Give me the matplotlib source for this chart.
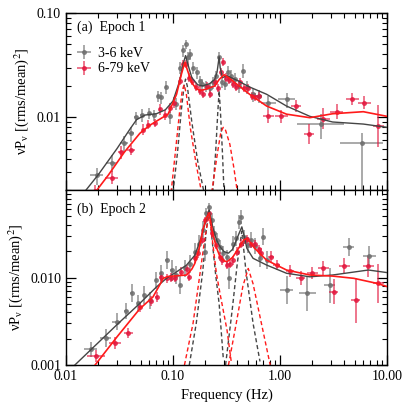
import numpy as np
import matplotlib
matplotlib.use("Agg")
import matplotlib.pyplot as plt
from matplotlib.ticker import FixedLocator, NullFormatter, LogLocator

plt.rcParams['font.family'] = ['Liberation Serif', 'DejaVu Serif']
plt.rcParams['mathtext.fontset'] = 'stix'

# ---------------- Epoch 1 data ----------------
fa_soft = [0.0194, 0.0267, 0.0348, 0.0403, 0.045, 0.0513, 0.060, 0.066, 0.072, 0.078, 0.0855, 0.094,
           0.107, 0.116, 0.123, 0.131, 0.138, 0.144, 0.155, 0.166, 0.179, 0.185, 0.205, 0.22, 0.237,
           0.255, 0.27, 0.29, 0.306, 0.33, 0.35, 0.38, 0.41, 0.45, 0.49, 0.56, 0.63, 0.78, 1.16, 2.41, 5.8]
pa_soft = [0.0028, 0.00366, 0.0057, 0.0070, 0.0100, 0.0106, 0.0110, 0.0105, 0.016, 0.0155, 0.0195, 0.0102,
           0.0135, 0.030, 0.0437, 0.0508, 0.038, 0.0406, 0.030, 0.027, 0.0224, 0.0208, 0.020, 0.019, 0.0216,
           0.025, 0.0377, 0.022, 0.0208, 0.027, 0.025, 0.0232, 0.020, 0.028, 0.0195, 0.0166, 0.016, 0.0138, 0.0149, 0.0086, 0.0056]
xa_soft = [0.06, 0.05, 0.04, 0.03, 0.02, 0.015, 0.015, 0.012, 0.01, 0.01, 0.01, 0.01,
           0.01, 0.008, 0.008, 0.008, 0.008, 0.008, 0.008, 0.008, 0.008, 0.008, 0.008, 0.008, 0.008,
           0.008, 0.008, 0.008, 0.008, 0.008, 0.008, 0.008, 0.008, 0.008, 0.01, 0.02, 0.03, 0.07, 0.08, 0.22, 0.2]
ylo_a_soft = [0.10, 0.09, 0.08, 0.08, 0.07, 0.07, 0.06, 0.06, 0.06, 0.06, 0.07, 0.07,
              0.06, 0.06, 0.06, 0.05, 0.06, 0.06, 0.06, 0.06, 0.06, 0.06, 0.06, 0.06, 0.06,
              0.06, 0.06, 0.06, 0.06, 0.07, 0.07, 0.07, 0.07, 0.07, 0.07, 0.07, 0.07, 0.07, 0.08, 0.14, 0.6]
yhi_a_soft = [0.07, 0.07, 0.06, 0.06, 0.05, 0.05, 0.05, 0.05, 0.05, 0.05, 0.06, 0.06,
              0.05, 0.05, 0.05, 0.04, 0.05, 0.05, 0.05, 0.05, 0.05, 0.05, 0.05, 0.05, 0.05,
              0.05, 0.05, 0.05, 0.05, 0.06, 0.06, 0.06, 0.06, 0.06, 0.06, 0.06, 0.06, 0.06, 0.06, 0.1, 0.1]

fa_hard = [0.0187, 0.0267, 0.0325, 0.0404, 0.0527, 0.059, 0.068, 0.076, 0.085, 0.094, 0.103,
           0.116, 0.123, 0.131, 0.141, 0.149, 0.164, 0.179, 0.19, 0.206, 0.22, 0.246, 0.265,
           0.284, 0.295, 0.31, 0.335, 0.365, 0.39, 0.42, 0.46, 0.50, 0.55, 0.58, 0.63,
           0.78, 1.03, 1.41, 1.87, 2.53, 3.39, 4.73, 6.1, 8.3]
pa_hard = [0.00195, 0.00263, 0.0046, 0.00485, 0.0076, 0.0085, 0.0088, 0.0119, 0.0105, 0.0122, 0.0138,
           0.0224, 0.0325, 0.0325, 0.024, 0.0224, 0.0195, 0.018, 0.0166, 0.020, 0.0166, 0.0216, 0.019,
           0.027, 0.0337, 0.024, 0.0227, 0.021, 0.0195, 0.0216, 0.019, 0.019, 0.016, 0.0156, 0.016,
           0.0102, 0.0102, 0.0128, 0.0069, 0.0097, 0.0113, 0.0149, 0.0138, 0.0082]
xa_hard = [0.08, 0.06, 0.03, 0.04, 0.015, 0.012, 0.012, 0.01, 0.01, 0.01, 0.008,
           0.008, 0.008, 0.008, 0.008, 0.008, 0.008, 0.008, 0.008, 0.008, 0.008, 0.008, 0.008,
           0.008, 0.008, 0.008, 0.008, 0.008, 0.008, 0.008, 0.008, 0.01, 0.01, 0.01, 0.02,
           0.05, 0.06, 0.05, 0.05, 0.06, 0.06, 0.06, 0.06, 0.05]
ye_a_hard = [0.06, 0.06, 0.06, 0.05, 0.05, 0.04, 0.04, 0.05, 0.05, 0.05, 0.05,
             0.04, 0.04, 0.04, 0.04, 0.04, 0.04, 0.04, 0.04, 0.04, 0.04, 0.04, 0.04,
             0.04, 0.04, 0.04, 0.04, 0.04, 0.04, 0.04, 0.04, 0.04, 0.04, 0.04, 0.04,
             0.06, 0.06, 0.06, 0.1, 0.1, 0.07, 0.06, 0.06, 0.2]

# models, epoch 1
fm_a_soft = [0.0154, 0.02, 0.03, 0.04, 0.0458, 0.055, 0.07, 0.085, 0.10, 0.115, 0.125, 0.131, 0.138,
             0.15, 0.17, 0.19, 0.22, 0.245, 0.258, 0.265, 0.27, 0.276, 0.29, 0.32, 0.4, 0.52, 0.75,
             1.15, 1.9, 3.1, 6.0, 10.0]
pm_a_soft = [0.0020, 0.0028, 0.0050, 0.0078, 0.0095, 0.0105, 0.0108, 0.0118, 0.0143, 0.022, 0.033, 0.039, 0.032,
             0.024, 0.0205, 0.020, 0.021, 0.023, 0.027, 0.033, 0.038, 0.030, 0.024, 0.025, 0.0225, 0.0195, 0.0166,
             0.0128, 0.0102, 0.0090, 0.0086, 0.0080]
fm_a_hard = [0.018, 0.025, 0.035, 0.049, 0.06, 0.0705, 0.09, 0.108, 0.12, 0.129, 0.137, 0.149, 0.165,
             0.18, 0.21, 0.246, 0.27, 0.30, 0.33, 0.36, 0.52, 0.75, 1.15, 1.9, 3.1, 6.0, 10.0]
pm_a_hard = [0.0018, 0.0028, 0.0046, 0.0070, 0.0083, 0.0092, 0.0107, 0.0166, 0.026, 0.0337, 0.028, 0.0216, 0.0188,
             0.018, 0.0188, 0.020, 0.023, 0.0256, 0.024, 0.0224, 0.0166, 0.0128, 0.0107, 0.0099, 0.0108, 0.0113, 0.0102]
fq1_a_soft = [0.10, 0.11, 0.12, 0.127, 0.131, 0.136, 0.15, 0.17, 0.195]
pq1_a_soft = [0.0019, 0.0045, 0.012, 0.020, 0.0232, 0.020, 0.009, 0.0038, 0.0019]
fq1_a_hard = [0.096, 0.105, 0.115, 0.122, 0.127, 0.133, 0.145, 0.165, 0.185]
pq1_a_hard = [0.0019, 0.0045, 0.011, 0.018, 0.0205, 0.017, 0.008, 0.0035, 0.0019]
fq2_a_soft = [0.235, 0.25, 0.262, 0.27, 0.278, 0.29, 0.30]
pq2_a_soft = [0.0019, 0.0045, 0.011, 0.018, 0.011, 0.0045, 0.0019]
fq2_a_hard = [0.23, 0.26, 0.28, 0.295, 0.31, 0.34, 0.37, 0.40]
pq2_a_hard = [0.0019, 0.0045, 0.0072, 0.0080, 0.0075, 0.0055, 0.0033, 0.0019]

# ---------------- Epoch 2 data ----------------
fb_soft = [0.0170, 0.0236, 0.0298, 0.0364, 0.041, 0.0475, 0.0534, 0.061, 0.070, 0.078, 0.087, 0.097,
           0.106, 0.116, 0.13, 0.144, 0.16, 0.176, 0.19, 0.199, 0.205, 0.218, 0.23, 0.243, 0.256,
           0.275, 0.295, 0.32, 0.336, 0.36, 0.387, 0.416, 0.43, 0.465, 0.50, 0.53, 0.58, 0.65,
           0.70, 0.75, 1.16, 1.79, 2.9, 4.37, 6.8]
pb_soft = [0.00151, 0.00205, 0.00313, 0.00418, 0.0067, 0.00507, 0.0063, 0.0055, 0.0093, 0.0112, 0.0158, 0.0122,
           0.0107, 0.0082, 0.0127, 0.0143, 0.0197, 0.0245, 0.035, 0.0197, 0.054, 0.0634, 0.045, 0.032, 0.0268,
           0.0225, 0.0189, 0.0173, 0.0098, 0.0245, 0.028, 0.0435, 0.0496, 0.0293, 0.0235, 0.0268, 0.023, 0.0166,
           0.0293, 0.0158, 0.0072, 0.0066, 0.0082, 0.0225, 0.0176]
xb_soft = [0.06, 0.05, 0.04, 0.02, 0.015, 0.015, 0.012, 0.012, 0.01, 0.01, 0.01, 0.01,
           0.008, 0.008, 0.008, 0.008, 0.008, 0.008, 0.008, 0.008, 0.008, 0.008, 0.008, 0.008, 0.008,
           0.008, 0.008, 0.008, 0.008, 0.008, 0.008, 0.008, 0.008, 0.008, 0.008, 0.008, 0.008, 0.008,
           0.008, 0.008, 0.06, 0.08, 0.05, 0.05, 0.06]
ye_b_soft = [0.09, 0.1, 0.1, 0.09, 0.1, 0.1, 0.1, 0.1, 0.1, 0.1, 0.1, 0.12,
             0.1, 0.1, 0.1, 0.1, 0.1, 0.1, 0.1, 0.1, 0.06, 0.05, 0.08, 0.08, 0.08,
             0.08, 0.08, 0.08, 0.12, 0.09, 0.09, 0.08, 0.08, 0.08, 0.09, 0.09, 0.09, 0.1,
             0.1, 0.1, 0.16, 0.2, 0.2, 0.1, 0.12]

fb_hard = [0.0191, 0.0287, 0.0382, 0.0491, 0.063, 0.0705, 0.078, 0.087, 0.096, 0.105, 0.12, 0.134, 0.142,
           0.16, 0.172, 0.185, 0.199, 0.218, 0.234, 0.252, 0.275, 0.29, 0.32, 0.34, 0.36, 0.40, 0.43,
           0.47, 0.495, 0.54, 0.58, 0.64, 0.67, 0.82, 0.93, 1.24, 1.56, 2.0, 2.53, 3.17, 4.0,
           5.1, 6.7, 8.3]
pb_hard = [0.00128, 0.0018, 0.00234, 0.00464, 0.00543, 0.0060, 0.0102, 0.0098, 0.0100, 0.0100, 0.0117, 0.0124, 0.0102,
           0.0166, 0.0189, 0.0268, 0.0454, 0.054, 0.032, 0.0235, 0.0173, 0.0158, 0.0139, 0.0143, 0.0158, 0.0197, 0.0245,
           0.0268, 0.0273, 0.0245, 0.0241, 0.021, 0.0192, 0.0173, 0.0139, 0.012, 0.0100, 0.0113, 0.0127, 0.0069, 0.0135,
           0.0055, 0.0135, 0.0086]
xb_hard = [0.08, 0.06, 0.04, 0.02, 0.015, 0.012, 0.01, 0.01, 0.01, 0.01, 0.008, 0.008, 0.008,
           0.008, 0.008, 0.008, 0.008, 0.008, 0.008, 0.008, 0.008, 0.008, 0.008, 0.008, 0.008, 0.008, 0.008,
           0.008, 0.008, 0.008, 0.008, 0.008, 0.008, 0.03, 0.03, 0.04, 0.04, 0.05, 0.05, 0.04, 0.05,
           0.04, 0.05, 0.05]
ye_b_hard = [0.07, 0.07, 0.06, 0.06, 0.06, 0.06, 0.05, 0.05, 0.05, 0.05, 0.05, 0.05, 0.05,
             0.05, 0.05, 0.05, 0.04, 0.04, 0.04, 0.05, 0.05, 0.05, 0.05, 0.05, 0.05, 0.05, 0.05,
             0.05, 0.05, 0.05, 0.05, 0.05, 0.05, 0.06, 0.06, 0.07, 0.08, 0.07, 0.08, 0.14, 0.09,
             0.26, 0.12, 0.22]

fm_b_soft = [0.0121, 0.02, 0.03, 0.049, 0.07, 0.087, 0.11, 0.134, 0.16, 0.18, 0.2, 0.218, 0.235, 0.255,
             0.275, 0.30, 0.33, 0.36, 0.38, 0.41, 0.44, 0.465, 0.49, 0.56, 0.75, 1.15, 1.9, 3.1, 6.7, 10.0]
pm_b_soft = [0.0010, 0.0018, 0.0029, 0.00507, 0.0078, 0.0098, 0.0118, 0.0139, 0.018, 0.0268, 0.042, 0.059, 0.038, 0.027,
             0.0225, 0.0198, 0.019, 0.021, 0.0245, 0.031, 0.038, 0.029, 0.0216, 0.0166, 0.0139, 0.0112, 0.0102, 0.0107, 0.0122, 0.0114]
fm_b_hard = [0.0187, 0.03, 0.049, 0.065, 0.075, 0.081, 0.09, 0.10, 0.134, 0.15, 0.16, 0.175, 0.19, 0.205,
             0.218, 0.235, 0.255, 0.275, 0.30, 0.32, 0.36, 0.41, 0.46, 0.49, 0.53, 0.58, 0.75, 1.15,
             1.9, 3.1, 4.9, 8.0, 10.0]
pm_b_hard = [0.0010, 0.0021, 0.0044, 0.0060, 0.0082, 0.0098, 0.0103, 0.0104, 0.0107, 0.0125, 0.0145, 0.021, 0.035, 0.048,
             0.055, 0.032, 0.022, 0.0173, 0.0155, 0.0152, 0.017, 0.0216, 0.027, 0.028, 0.025, 0.0216, 0.0158, 0.0122,
             0.0107, 0.0104, 0.0098, 0.0086, 0.0079]
fq1_b_soft = [0.142, 0.165, 0.19, 0.205, 0.218, 0.23, 0.25, 0.27, 0.295]
pq1_b_soft = [0.001, 0.003, 0.012, 0.035, 0.058, 0.030, 0.011, 0.005, 0.0012]
fq1_b_hard = [0.128, 0.154, 0.179, 0.2, 0.218, 0.235, 0.255, 0.275, 0.32, 0.35]
pq1_b_hard = [0.001, 0.003, 0.0112, 0.030, 0.054, 0.025, 0.011, 0.0066, 0.0025, 0.0011]
fq2_b_soft = [0.31, 0.36, 0.40, 0.44, 0.48, 0.56, 0.65]
pq2_b_soft = [0.001, 0.0046, 0.015, 0.034, 0.012, 0.003, 0.0011]
fq2_b_hard = [0.33, 0.39, 0.45, 0.505, 0.56, 0.67, 0.81]
pq2_b_hard = [0.001, 0.003, 0.008, 0.0127, 0.0085, 0.003, 0.001]

GRAY_PT = '#6e6e6e'
RED_PT = '#e3173e'
GRAY_LN = '#454545'
RED_LN = '#ff1a1a'


def logerr(v, dlo, dhi):
    v = np.asarray(v)
    return [v - v * 10 ** (-np.asarray(dlo)), v * 10 ** np.asarray(dhi) - v]


def pts(ax, f, p, xd, ylo, yhi, col, label=None):
    return ax.errorbar(f, p, xerr=logerr(f, xd, xd), yerr=logerr(p, ylo, yhi), fmt='o', ms=2.6,
                       color=col, ecolor=col, elinewidth=1.1, capsize=0, alpha=0.75,
                       mec=col, mfc=col, label=label, zorder=3)


fig = plt.figure(figsize=(4.07, 4.07), dpi=100)
ax1 = fig.add_axes([0.162, 0.533, 0.789, 0.435])
ax2 = fig.add_axes([0.162, 0.103, 0.789, 0.430])

# Epoch 1
h1 = pts(ax1, fa_soft, pa_soft, xa_soft, ylo_a_soft, yhi_a_soft, GRAY_PT, '3-6 keV')
h2 = pts(ax1, fa_hard, pa_hard, xa_hard, ye_a_hard, ye_a_hard, RED_PT, '6-79 keV')
ax1.plot(fm_a_soft, pm_a_soft, color=GRAY_LN, lw=1.0, zorder=4)
ax1.plot(fm_a_hard, pm_a_hard, color=RED_LN, lw=1.2, zorder=4)
for f, p, c in [(fq1_a_soft, pq1_a_soft, GRAY_LN), (fq2_a_soft, pq2_a_soft, GRAY_LN),
                (fq1_a_hard, pq1_a_hard, RED_LN), (fq2_a_hard, pq2_a_hard, RED_LN)]:
    ax1.plot(f, p, color=c, lw=1.0, ls=(0, (3, 2)), zorder=2)

# Epoch 2
pts(ax2, fb_soft, pb_soft, xb_soft, ye_b_soft, ye_b_soft, GRAY_PT)
pts(ax2, fb_hard, pb_hard, xb_hard, ye_b_hard, ye_b_hard, RED_PT)
ax2.plot(fm_b_soft, pm_b_soft, color=GRAY_LN, lw=1.0, zorder=4)
ax2.plot(fm_b_hard, pm_b_hard, color=RED_LN, lw=1.2, zorder=4)
for f, p, c in [(fq1_b_soft, pq1_b_soft, GRAY_LN), (fq2_b_soft, pq2_b_soft, GRAY_LN),
                (fq1_b_hard, pq1_b_hard, RED_LN), (fq2_b_hard, pq2_b_hard, RED_LN)]:
    ax2.plot(f, p, color=c, lw=1.0, ls=(0, (3, 2)), zorder=2)

for ax in (ax1, ax2):
    ax.set_xscale('log')
    ax.set_yscale('log')
    ax.set_xlim(0.01, 10.0)
    ax.tick_params(which='both', direction='in', top=True, right=True, labelsize=10)
    ax.tick_params(which='major', length=7, width=0.9)
    ax.tick_params(which='minor', length=3.5, width=0.8)
    ax.xaxis.set_major_locator(FixedLocator([0.01, 0.1, 1.0, 10.0]))
    ax.xaxis.set_minor_locator(LogLocator(base=10, subs=np.arange(2, 10)))
    ax.yaxis.set_minor_locator(LogLocator(base=10, subs=np.arange(2, 10)))
    ax.yaxis.set_minor_formatter(NullFormatter())
    ax.xaxis.set_minor_formatter(NullFormatter())
    ax.set_ylabel(r'$\mathregular{\nu P_\nu}$ [(rms/mean)$^2$]', fontsize=10.5, labelpad=4)
    for s in ax.spines.values():
        s.set_linewidth(1.0)

ax1.set_ylim(0.002, 0.1)
ax1.yaxis.set_major_locator(FixedLocator([0.01, 0.1]))
ax1.set_yticklabels(['0.01', '0.10'])
ax1.set_xticklabels([])
ax2.set_ylim(0.001, 0.1)
ax2.yaxis.set_major_locator(FixedLocator([0.001, 0.01]))
ax2.set_yticklabels(['0.001', '0.010'])
ax2.set_xticklabels(['0.01', '0.10', '1.00', '10.00'])
ax2.set_xlabel('Frequency (Hz)', fontsize=10.5)

ax1.text(0.035, 0.955, '(a)  Epoch 1', transform=ax1.transAxes, fontsize=10, va='top')
ax2.text(0.035, 0.93, '(b)  Epoch 2', transform=ax2.transAxes, fontsize=10, va='top')
ax1.legend(handles=[h1, h2], loc='upper left', bbox_to_anchor=(0.0, 0.865), frameon=False,
           fontsize=10, handlelength=1.2, handletextpad=0.4, borderaxespad=0.3, labelspacing=0.2)

fig.savefig('out.png', dpi=100)
